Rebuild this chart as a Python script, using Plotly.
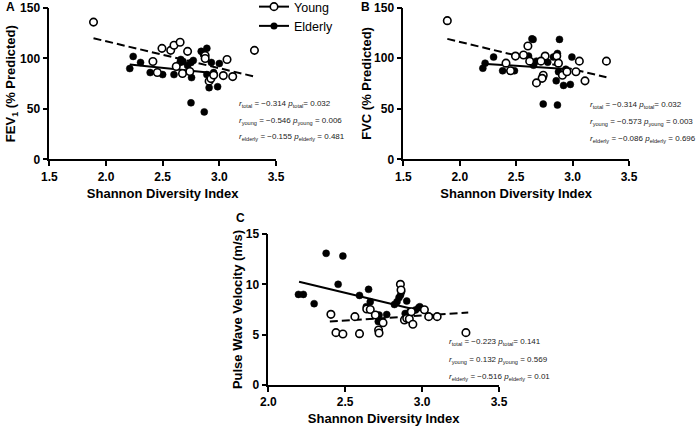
import plotly.graph_objects as go

# ---------------- data ----------------
# Panel A: FEV1 (% predicted)
a_young_x = [1.89, 2.494, 2.571, 2.60, 2.654, 2.72, 2.414, 2.453, 2.62, 2.675, 2.74, 2.875, 2.875, 2.91, 2.926, 2.95, 3.035, 3.068, 3.118, 3.31]
a_young_y = [136, 110, 108, 113, 116, 107, 97, 86, 92, 85, 87, 103, 100, 77.5, 80, 83.5, 83, 99, 82, 108]
a_eld_x = [2.21, 2.24, 2.305, 2.39, 2.50, 2.60, 2.654, 2.68, 2.72, 2.75, 2.77, 2.755, 2.84, 2.89, 2.86, 2.89, 2.91, 2.985, 2.93, 3.0, 2.95, 2.75, 2.867, 2.66]
a_eld_y = [90, 102, 96, 86, 84, 84, 96, 97, 93, 96, 98, 81, 107, 110, 104, 84, 71, 72, 96, 95, 86, 56, 47, 99]
a_young_fit_x = [1.89, 3.31]
a_young_fit_y = [120, 82]
a_eld_fit_x = [2.21, 2.985]
a_eld_fit_y = [94, 85]

# Panel B: FVC (% predicted)
b_young_x = [1.89, 2.604, 2.494, 2.565, 2.62, 2.41, 2.45, 2.757, 2.72, 2.86, 2.875, 2.74, 2.73, 2.68, 2.91, 2.95, 3.03, 3.06, 3.11, 3.30]
b_young_y = [137, 112, 102, 103, 97, 95, 87.5, 102, 97, 102, 95, 83, 80, 75.5, 83, 86.5, 86.5, 97, 77.5, 97]
b_eld_x = [2.205, 2.225, 2.30, 2.38, 2.485, 2.64, 2.65, 2.61, 2.654, 2.68, 2.78, 2.83, 2.866, 2.884, 2.875, 2.994, 2.855, 2.92, 2.98, 2.74, 2.74, 2.866, 2.94]
b_eld_y = [90, 95, 101, 87.5, 87.5, 119, 118.5, 102, 93, 97, 96, 101, 104.6, 118.5, 86.5, 101, 77.6, 73, 74, 81, 54.6, 53.6, 89]
b_young_fit_x = [1.89, 3.30]
b_young_fit_y = [119, 81]
b_eld_fit_x = [2.205, 2.98]
b_eld_fit_y = [94.5, 89]

# Panel C: Pulse wave velocity (m/s)
c_young_x = [2.407, 2.44, 2.485, 2.563, 2.593, 2.64, 2.663, 2.696, 2.717, 2.72, 2.746, 2.859, 2.863, 2.885, 2.90, 2.917, 2.93, 2.94, 3.015, 3.043, 3.098, 3.285]
c_young_y = [7.02, 5.2, 5.07, 6.79, 5.1, 7.55, 7.5, 6.95, 5.46, 5.17, 6.19, 10.0, 9.44, 6.46, 6.62, 6.56, 7.28, 6.03, 7.48, 6.79, 6.79, 5.2]
c_eld_x = [2.196, 2.228, 2.298, 2.376, 2.485, 2.454, 2.593, 2.652, 2.663, 2.637, 2.72, 2.77, 2.715, 2.82, 2.837, 2.85, 2.86, 2.867, 2.89, 2.90, 2.92, 2.957, 2.978, 2.985]
c_eld_y = [9.0, 9.0, 8.08, 13.08, 12.81, 10.0, 8.9, 9.5, 8.27, 7.78, 6.95, 7.0, 6.3, 8.0, 8.28, 8.68, 8.94, 9.27, 7.1, 8.34, 7.28, 7.45, 7.68, 7.78]
c_young_fit_x = [2.4, 3.3]
c_young_fit_y = [6.3, 7.2]
c_eld_fit_x = [2.2, 2.98]
c_eld_fit_y = [10.25, 7.4]

x_ticks_ab = [1.5, 2.0, 2.5, 3.0, 3.5]
x_ticks_c = [2.0, 2.5, 3.0, 3.5]
y_ticks_ab = [0, 50, 100, 150]
y_ticks_c = [0, 5, 10, 15]

stats_a = [("total", "−0.314", "0.032"), ("young", "−0.546", "0.006"), ("elderly", "−0.155", "0.481")]
stats_b = [("total", "−0.314", "0.032"), ("young", "−0.573", "0.003"), ("elderly", "−0.086", "0.696")]
stats_c = [("total", "−0.223", "0.141"), ("young", "0.132", "0.569"), ("elderly", "−0.516", "0.01")]

# ---------------- figure ----------------
FONT = "Liberation Sans, Arial, sans-serif"
fig = go.Figure()

def add_panel(xs_y, ys_y, xs_e, ys_e, fxy, fyy, fxe, fye, xa, ya):
    fig.add_trace(go.Scatter(x=fxy, y=fyy, mode="lines", xaxis=xa, yaxis=ya, showlegend=False,
                             line=dict(color="black", width=2, dash="8px,4px"), hoverinfo="skip"))
    fig.add_trace(go.Scatter(x=fxe, y=fye, mode="lines", xaxis=xa, yaxis=ya, showlegend=False,
                             line=dict(color="black", width=2), hoverinfo="skip"))
    fig.add_trace(go.Scatter(x=xs_e, y=ys_e, mode="markers", xaxis=xa, yaxis=ya, showlegend=False,
                             marker=dict(symbol="circle", size=7, color="black", line=dict(color="black", width=0.5))))
    fig.add_trace(go.Scatter(x=xs_y, y=ys_y, mode="markers", xaxis=xa, yaxis=ya, showlegend=False,
                             marker=dict(symbol="circle", size=7.5, color="white", line=dict(color="black", width=1.6))))

add_panel(a_young_x, a_young_y, a_eld_x, a_eld_y, a_young_fit_x, a_young_fit_y, a_eld_fit_x, a_eld_fit_y, "x", "y")
add_panel(b_young_x, b_young_y, b_eld_x, b_eld_y, b_young_fit_x, b_young_fit_y, b_eld_fit_x, b_eld_fit_y, "x2", "y2")
add_panel(c_young_x, c_young_y, c_eld_x, c_eld_y, c_young_fit_x, c_young_fit_y, c_eld_fit_x, c_eld_fit_y, "x3", "y3")

# legend-only traces
fig.add_trace(go.Scatter(x=[None], y=[None], mode="lines+markers", name="Young", legendgroup="g1",
                         line=dict(color="black", width=2),
                         marker=dict(size=7.5, color="white", line=dict(color="black", width=1.6))))
fig.add_trace(go.Scatter(x=[None], y=[None], mode="lines+markers", name="Elderly", legendgroup="g2",
                         line=dict(color="black", width=2),
                         marker=dict(size=7, color="black")))

W, H = 700, 428
def px_x(v):
    return v / W
def px_y(v):
    return 1 - v / H

axis_common = dict(showgrid=False, zeroline=False, showline=True, linecolor="black", linewidth=1.6,
                   ticks="outside", ticklen=5, tickwidth=1.6, tickcolor="black", automargin=False,
                   tickfont=dict(family=FONT, size=12, color="black", weight="bold"))
title_font = dict(family=FONT, size=13, color="black", weight="bold")

fig.update_layout(
    width=W, height=H, margin=dict(l=0, r=0, t=0, b=0, autoexpand=False),
    paper_bgcolor="white", plot_bgcolor="white",
    xaxis=dict(domain=[px_x(49.3), px_x(276)], range=[1.5, 3.5], tickvals=x_ticks_ab, tickformat=".1f",
               anchor="y", title=dict(text="Shannon Diversity Index", font=title_font, standoff=6), **axis_common),
    yaxis=dict(domain=[px_y(159.3), px_y(8)], range=[0, 150], tickvals=y_ticks_ab, anchor="x",
               title=dict(text="FEV<sub>1</sub> (% Predicted)", font=title_font, standoff=0), **axis_common),
    xaxis2=dict(domain=[px_x(403.3), px_x(629)], range=[1.5, 3.5], tickvals=x_ticks_ab, tickformat=".1f",
                anchor="y2", title=dict(text="Shannon Diversity Index", font=title_font, standoff=6), **axis_common),
    yaxis2=dict(domain=[px_y(159.3), px_y(7.5)], range=[0, 150], tickvals=y_ticks_ab, anchor="x2",
                title=dict(text="FVC (% Predicted)", font=title_font, standoff=0), **axis_common),
    xaxis3=dict(domain=[px_x(268.3), px_x(499)], range=[2.0, 3.5], tickvals=x_ticks_c, tickformat=".1f",
                anchor="y3", title=dict(text="Shannon Diversity Index", font=title_font, standoff=6), **axis_common),
    yaxis3=dict(domain=[px_y(385), px_y(234)], range=[0, 15], tickvals=y_ticks_c, anchor="x3",
                title=dict(text="Pulse Wave Velocity (m/s)", font=title_font, standoff=0), **axis_common),
    legend=dict(x=px_x(254), y=px_y(-8), xanchor="left", yanchor="top", bgcolor="rgba(0,0,0,0)",
                font=dict(family=FONT, size=12.5, color="black"), tracegroupgap=0, itemwidth=30),
    showlegend=True,
)

annotations = []
for lab, (x, y) in zip(["A", "B", "C"], [(10, 7), (365, 7), (240, 218)]):
    annotations.append(dict(text=lab, x=px_x(x), y=px_y(y), xref="paper", yref="paper",
                            xanchor="center", yanchor="middle", showarrow=False,
                            font=dict(family=FONT, size=12, color="black", weight="bold")))

def add_stats(stats, x0, ys):
    for (grp, r, p), yy in zip(stats, ys):
        eq = "=" if grp == "total" else " ="
        txt = f"<i>r</i><sub>{grp}</sub> = {r} <i>p</i><sub>{grp}</sub>{eq} {p}"
        annotations.append(dict(text=txt, x=px_x(x0), y=px_y(yy), xref="paper", yref="paper",
                                xanchor="left", yanchor="middle", showarrow=False,
                                font=dict(family=FONT, size=8, color="#222")))

add_stats(stats_a, 237, [104, 121, 137])
add_stats(stats_b, 588, [105, 122, 139])
add_stats(stats_c, 447, [342, 360, 377])

fig.update_layout(annotations=annotations)
fig.write_html("out.html", config={"displayModeBar": False},
               post_script="document.body.style.margin='0';")
